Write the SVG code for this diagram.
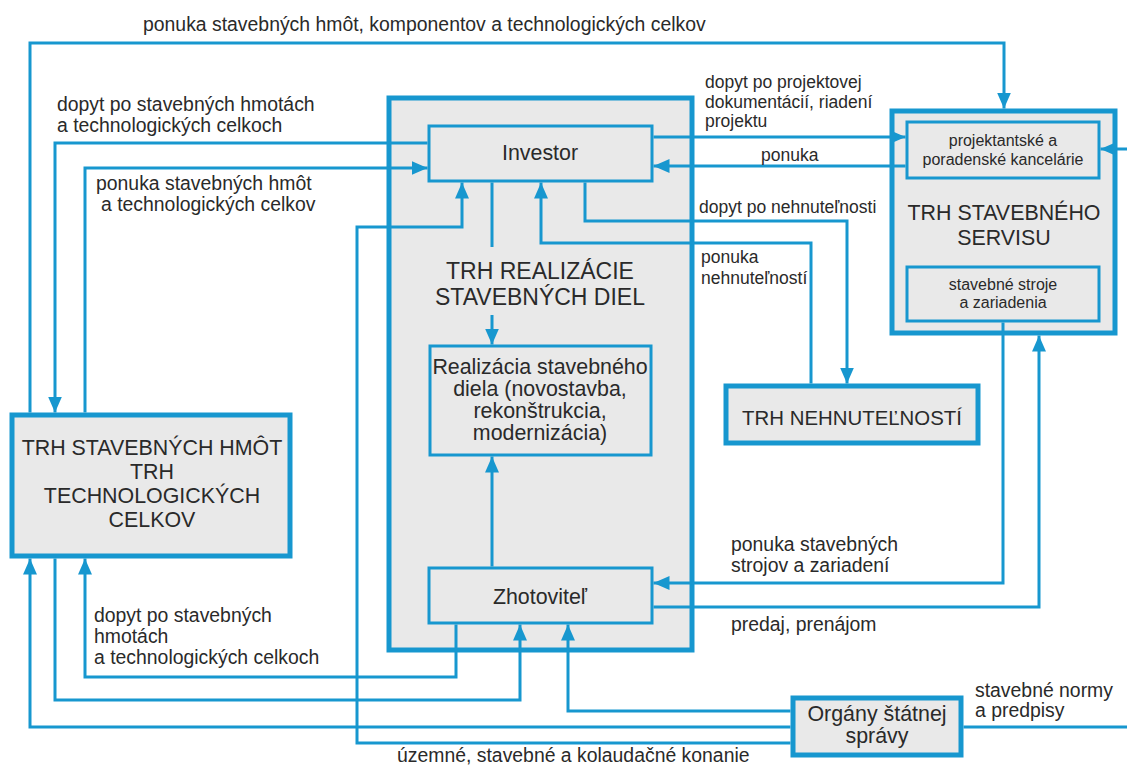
<svg xmlns="http://www.w3.org/2000/svg" width="1127" height="769" viewBox="0 0 1127 769">
<defs>
<style>
.c{fill:none;stroke:#1797cf;stroke-width:3}
.a{marker-end:url(#ah)}
.bx{fill:#e9e9e9;stroke:#1797cf;stroke-width:3}
.bk{fill:#e9e9e9;stroke:#1797cf;stroke-width:5}
text{font-family:"Liberation Sans",Arial,sans-serif;fill:#2a2a2a}
.l{font-size:19.4px}
.s{font-size:17.5px}
.m{font-size:21.4px}
.b{font-size:23px}
.x{font-size:16px}
.mid{text-anchor:middle}
</style>
<marker id="ah" markerUnits="userSpaceOnUse" markerWidth="16" markerHeight="14" refX="16" refY="7" orient="auto">
<path d="M0,0 L16,7 L0,14 Z" fill="#1797cf"/>
</marker>
</defs>
<rect width="1127" height="769" fill="#ffffff"/>

<g id="trh-realizacie">
<rect class="bk" x="389" y="98" width="303" height="552"/>
<text class="b mid" x="540" y="279">TRH REALIZÁCIE</text>
<text class="b mid" x="540" y="305">STAVEBNÝCH DIEL</text>
</g>
<g id="investor">
<rect class="bx" x="429" y="126" width="223" height="55"/>
<text class="m mid" x="540" y="160">Investor</text>
</g>
<g id="realizacia">
<rect class="bx" x="430" y="346" width="221" height="109"/>
<text class="m mid" x="540" y="374">Realizácia stavebného</text>
<text class="m mid" x="540" y="396">diela (novostavba,</text>
<text class="m mid" x="540" y="418">rekonštrukcia,</text>
<text class="m mid" x="540" y="440">modernizácia)</text>
</g>
<g id="zhotovitel">
<rect class="bx" x="429" y="568" width="223" height="55"/>
<text class="m mid" x="540" y="604">Zhotoviteľ</text>
</g>
<g id="trh-hmot">
<rect class="bk" x="12" y="415" width="278" height="141"/>
<text class="m mid" x="152" y="455">TRH STAVEBNÝCH HMÔT</text>
<text class="m mid" x="152" y="479">TRH</text>
<text class="m mid" x="152" y="503">TECHNOLOGICKÝCH</text>
<text class="m mid" x="152" y="527">CELKOV</text>
</g>
<g id="trh-servisu">
<rect class="bk" x="892" y="111" width="223" height="222"/>
<text class="m mid" x="1004" y="220">TRH STAVEBNÉHO</text>
<text class="m mid" x="1004" y="245">SERVISU</text>
</g>
<g id="projektantske">
<rect class="bx" x="907" y="122" width="192" height="56"/>
<text class="x mid" x="1003" y="146">projektantské a</text>
<text class="x mid" x="1003" y="165">poradenské kancelárie</text>
</g>
<g id="stroje">
<rect class="bx" x="907" y="267" width="192" height="54"/>
<text class="x mid" x="1003" y="290">stavebné stroje</text>
<text class="x mid" x="1003" y="308">a zariadenia</text>
</g>
<g id="trh-nehnutelnosti">
<rect class="bk" x="726" y="386" width="252" height="57"/>
<text class="mid" style="font-size:20.4px" x="852" y="425">TRH NEHNUTEĽNOSTÍ</text>
</g>
<g id="organy">
<rect class="bk" x="793" y="698" width="168" height="57"/>
<text class="m mid" x="877" y="721">Orgány štátnej</text>
<text class="m mid" x="877" y="743">správy</text>
</g>

<g id="connectors">
<path class="c a" d="M30,412.5 V43 H1004 V108.5"/>
<path class="c a" d="M427.5,143 H55 V412.5"/>
<path class="c a" d="M85,412.5 V168 H427.5"/>
<path class="c a" d="M790.5,743 H357 V227 H462 V182.5"/>
<path class="c a" d="M653.5,137 H905.5"/>
<path class="c a" d="M905.5,166 H653.5"/>
<path class="c a" d="M585,182.5 V221 H847 V383.5"/>
<path class="c a" d="M811,383.5 V243 H541 V182.5"/>
<path class="c" d="M492,182.5 V247"/>
<path class="c a" d="M492,315 V344.5"/>
<path class="c a" d="M492,566.5 V456.5"/>
<path class="c a" d="M1003,322.5 V583 H653.5"/>
<path class="c a" d="M653.5,607 H1039 V335.5"/>
<path class="c a" d="M456,624.5 V677 H85 V558.5"/>
<path class="c a" d="M55,558.5 V700 H520 V624.5"/>
<path class="c a" d="M790.5,711 H568 V624.5"/>
<path class="c a" d="M790.5,727 H30 V558.5"/>
<path class="c a" d="M963.5,727 H1135 V149 H1100.5"/>
</g>

<g id="labels">
<text class="l" x="143" y="31">ponuka stavebných hmôt, komponentov a technologických celkov</text>
<text class="l" x="57" y="111">dopyt po stavebných hmotách</text>
<text class="l" x="57" y="132">a technologických celkoch</text>
<text class="l" x="96" y="190">ponuka stavebných hmôt</text>
<text class="l" x="101" y="211">a technologických celkov</text>
<text class="s" x="705" y="88">dopyt po projektovej</text>
<text class="s" x="705" y="108">dokumentácií, riadení</text>
<text class="s" x="705" y="127">projektu</text>
<text class="s" x="761" y="161">ponuka</text>
<text class="s" x="699" y="213">dopyt po nehnuteľnosti</text>
<text class="s" x="701" y="263">ponuka</text>
<text class="s" x="701" y="284">nehnuteľností</text>
<text class="l" x="731" y="551">ponuka stavebných</text>
<text class="l" x="731" y="572">strojov a zariadení</text>
<text class="l" x="731" y="631">predaj, prenájom</text>
<text class="l" x="975" y="697">stavebné normy</text>
<text class="l" x="975" y="717">a predpisy</text>
<text class="l" x="94" y="622">dopyt po stavebných</text>
<text class="l" x="94" y="643">hmotách</text>
<text class="l" x="94" y="664">a technologických celkoch</text>
<text class="l" x="397" y="762">územné, stavebné a kolaudačné konanie</text>
</g>
</svg>
